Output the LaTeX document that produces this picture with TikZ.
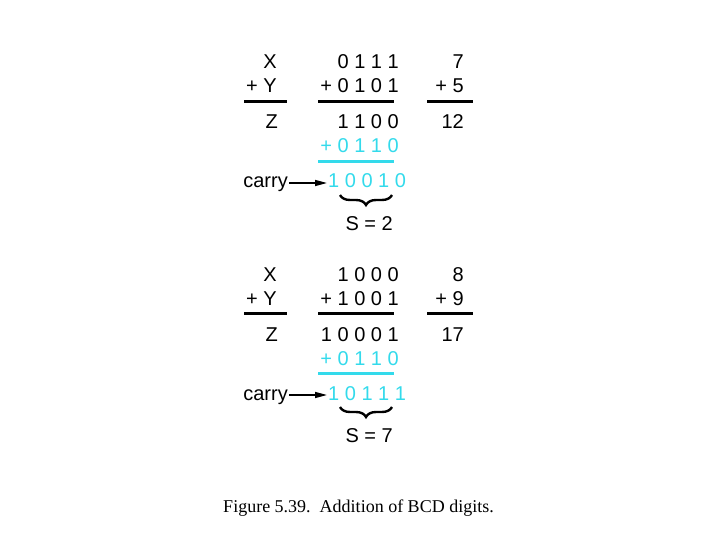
\documentclass[tikz,border=0pt]{standalone}
\usepackage{fontspec}
\setmainfont{Liberation Serif}
\newfontfamily\arialf{Liberation Sans}
\usetikzlibrary{arrows.meta,decorations.pathreplacing}
\definecolor{bcdcyan}{RGB}{51,218,235}
\begin{document}
\begin{tikzpicture}[x=1pt,y=-1pt,
  txt/.style={font=\arialf\fontsize{20}{23}\selectfont, inner sep=0pt, anchor=base east},
  cy/.style={text=bcdcyan},
  rule/.style={line width=3pt},
  carryarrow/.style={line width=1.5pt,-{Triangle[length=12pt,width=6pt]}},
  sumbrace/.style={line width=2.4pt,decorate,decoration={brace,mirror,amplitude=10pt}},
  caption/.style={font=\fontsize{18}{21}\selectfont, inner sep=0pt, anchor=base}]
\useasboundingbox (0,0) rectangle (720,540);

% ---------- top block ----------
\node[txt] (aX) at (277,69) {X};
\node[txt] (aY) at (277,93) {+ Y};
\draw[rule] (244,101.5) -- (287,101.5);
\node[txt] (aZ) at (278,129) {Z};

\node[txt] (aA) at (399,69) {0 1 1 1};
\node[txt] (aB) at (399,93) {+ 0 1 0 1};
\draw[rule] (318,101.5) -- (394,101.5);
\node[txt] (aS) at (399,129) {1 1 0 0};
\node[txt,cy] (aC) at (399,153) {+ 0 1 1 0};
\draw[rule,bcdcyan] (318,161.5) -- (394,161.5);

\node[txt] (acarry) at (288,188) {carry};
\node[txt,cy,anchor=base west] (aR) at (328,188) {1 0 0 1 0};
\draw[carryarrow] ([xshift=1pt,yshift=5pt]acarry.base east) -- ([xshift=-1pt,yshift=5pt]aR.base west);
\draw[sumbrace] (340,195) -- (392,195);
\node[txt] (asum) at (393,230) {S = 2};

\node[txt] (ad1) at (464,69) {7};
\node[txt] (ad2) at (464,93) {+ 5};
\draw[rule] (427,101.5) -- (473,101.5);
\node[txt] (ad3) at (464,129) {12};

% ---------- bottom block ----------
\begin{scope}[shift={(0,212)}]
\node[txt] (bX) at (277,69) {X};
\node[txt] (bY) at (277,93) {+ Y};
\draw[rule] (244,101.5) -- (287,101.5);
\node[txt] (bZ) at (278,129) {Z};

\node[txt] (bA) at (399,69) {1 0 0 0};
\node[txt] (bB) at (399,93) {+ 1 0 0 1};
\draw[rule] (318,101.5) -- (394,101.5);
\node[txt] (bS) at (399,129) {1 0 0 0 1};
\node[txt,cy] (bC) at (399,153) {+ 0 1 1 0};
\draw[rule,bcdcyan] (318,161.5) -- (394,161.5);

\node[txt] (bcarry) at (288,188) {carry};
\node[txt,cy,anchor=base west] (bR) at (328,188) {1 0 1 1 1};
\draw[carryarrow] ([xshift=1pt,yshift=5pt]bcarry.base east) -- ([xshift=-1pt,yshift=5pt]bR.base west);
\draw[sumbrace] (340,195) -- (392,195);
\node[txt] (bsum) at (393,230) {S = 7};

\node[txt] (bd1) at (464,69) {8};
\node[txt] (bd2) at (464,93) {+ 9};
\draw[rule] (427,101.5) -- (473,101.5);
\node[txt] (bd3) at (464,129) {17};
\end{scope}

\node[caption] (cap) at (358.5,512) {Figure 5.39.\ \ Addition of BCD digits.};
\end{tikzpicture}
\end{document}
